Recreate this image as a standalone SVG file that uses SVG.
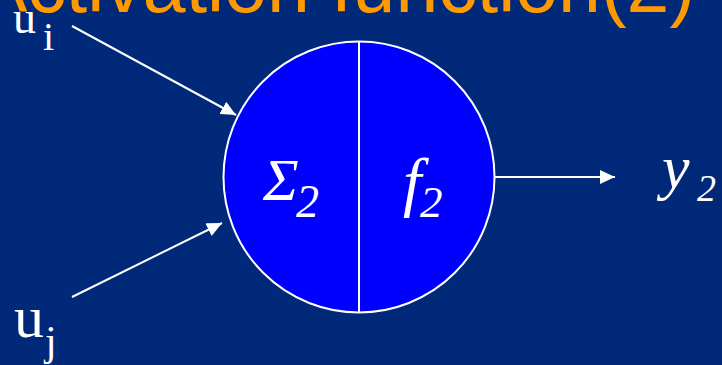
<svg xmlns="http://www.w3.org/2000/svg" width="722" height="365" viewBox="0 0 722 365">
<style>
.title{font-family:"Liberation Sans",Arial,sans-serif;font-size:77px;fill:#FF9900}
.m{font-family:"Liberation Serif","Times New Roman",serif;fill:#FFFFFF}
.it{font-style:italic}
.wire{stroke:#FFFFFF;stroke-width:2;fill:none}
</style>
<defs>
<marker id="ah" markerUnits="userSpaceOnUse" markerWidth="16" markerHeight="14" refX="15" refY="7" orient="auto">
<path d="M0,0 L15,7 L0,14 z" fill="#FFFFFF"/>
</marker>
</defs>
<rect x="0" y="0" width="722" height="365" fill="#00297A"/>
<text class="title" x="-24" y="12">Activation function(2)</text>
<g id="connectors">
<line class="wire" x1="72" y1="26" x2="236" y2="115" marker-end="url(#ah)"/>
<line class="wire" x1="72" y1="297" x2="222" y2="223" marker-end="url(#ah)"/>
<line class="wire" x1="495" y1="177" x2="615" y2="177" marker-end="url(#ah)"/>
</g>
<g id="neuron">
<circle cx="359" cy="177" r="135.5" fill="#0000FF" stroke="#FFFFFF" stroke-width="2"/>
<line x1="359" y1="41.5" x2="359" y2="312.5" stroke="#FFFFFF" stroke-width="2"/>
<text class="m it" x="263" y="200" font-size="60">Σ</text>
<text class="m it" x="296" y="217" font-size="46">2</text>
<text class="m it" x="403" y="204" font-size="66">f</text>
<text class="m it" x="420" y="217" font-size="45">2</text>
</g>
<g id="input-i">
<text class="m" x="13" y="33" font-size="46">u</text>
<text class="m" x="43" y="50" font-size="40">i</text>
</g>
<g id="input-j">
<text class="m" x="14" y="337" font-size="60">u</text>
<text class="m" x="45" y="355" font-size="42">j</text>
</g>
<g id="output">
<text class="m it" x="662" y="188" font-size="62">y</text>
<text class="m it" x="697" y="201" font-size="38">2</text>
</g>
</svg>
